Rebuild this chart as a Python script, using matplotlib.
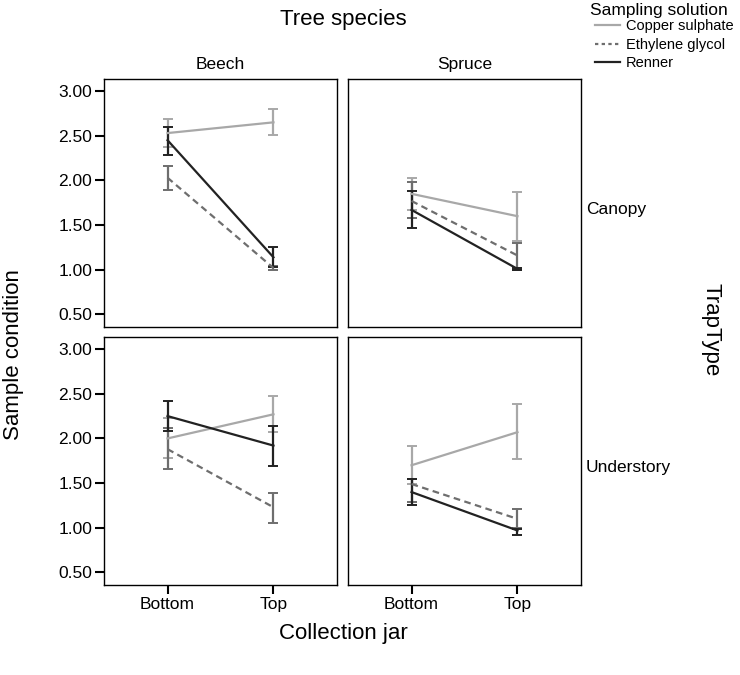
import numpy as np
import matplotlib.pyplot as plt

plt.rcParams['font.family'] = ['Liberation Sans', 'DejaVu Sans']

# categories
jars = ["Bottom", "Top"]
trees = ["Beech", "Spruce"]
traps = ["Canopy", "Understory"]
solutions = ["Copper sulphate", "Ethylene glycol", "Renner"]

# means [Bottom, Top] per panel (trap, tree) and solution
copper_mean = {("Canopy", "Beech"): [2.53, 2.65], ("Canopy", "Spruce"): [1.85, 1.60],
               ("Understory", "Beech"): [2.00, 2.27], ("Understory", "Spruce"): [1.70, 2.07]}
glycol_mean = {("Canopy", "Beech"): [2.03, 1.02], ("Canopy", "Spruce"): [1.77, 1.16],
               ("Understory", "Beech"): [1.88, 1.23], ("Understory", "Spruce"): [1.49, 1.10]}
renner_mean = {("Canopy", "Beech"): [2.45, 1.14], ("Canopy", "Spruce"): [1.67, 1.01],
               ("Understory", "Beech"): [2.25, 1.92], ("Understory", "Spruce"): [1.40, 0.97]}

# error bar lower / upper ends
copper_lo = {("Canopy", "Beech"): [2.37, 2.51], ("Canopy", "Spruce"): [1.67, 1.32],
             ("Understory", "Beech"): [1.78, 2.07], ("Understory", "Spruce"): [1.49, 1.77]}
copper_hi = {("Canopy", "Beech"): [2.69, 2.80], ("Canopy", "Spruce"): [2.03, 1.87],
             ("Understory", "Beech"): [2.23, 2.48], ("Understory", "Spruce"): [1.91, 2.38]}
glycol_lo = {("Canopy", "Beech"): [1.89, 1.00], ("Canopy", "Spruce"): [1.58, 1.00],
             ("Understory", "Beech"): [1.66, 1.05], ("Understory", "Spruce"): [1.29, 1.00]}
glycol_hi = {("Canopy", "Beech"): [2.16, 1.04], ("Canopy", "Spruce"): [1.98, 1.30],
             ("Understory", "Beech"): [2.12, 1.39], ("Understory", "Spruce"): [1.55, 1.21]}
renner_lo = {("Canopy", "Beech"): [2.29, 1.03], ("Canopy", "Spruce"): [1.47, 1.00],
             ("Understory", "Beech"): [2.08, 1.69], ("Understory", "Spruce"): [1.26, 0.92]}
renner_hi = {("Canopy", "Beech"): [2.60, 1.25], ("Canopy", "Spruce"): [1.88, 1.02],
             ("Understory", "Beech"): [2.42, 2.14], ("Understory", "Spruce"): [1.55, 0.99]}

yticks = [0.5, 1.0, 1.5, 2.0, 2.5, 3.0]

series = [
    (copper_mean, copper_lo, copper_hi, "#a8a8a8", "-"),
    (glycol_mean, glycol_lo, glycol_hi, "#6e6e6e", (0, (3, 2))),
    (renner_mean, renner_lo, renner_hi, "#222222", "-"),
]

fig = plt.figure(figsize=(7.4, 6.75), dpi=100)

lefts = [104 / 740, 348 / 740]
bottoms = [1 - 327 / 675, 1 - 585 / 675]
w = 233 / 740
h = 248 / 675

x = np.arange(len(jars))
for r, trap in enumerate(traps):
    for c, tree in enumerate(trees):
        ax = fig.add_axes([lefts[c], bottoms[r], w, h])
        key = (trap, tree)
        for means, lo, hi, col, ls in series:
            m = np.array(means[key])
            err = [m - np.array(lo[key]), np.array(hi[key]) - m]
            ax.errorbar(x, m, yerr=err, color=col, linestyle=ls, linewidth=1.6,
                        elinewidth=1.6, capsize=3.6, capthick=1.4)
        ax.set_xlim(-0.6, 1.6)
        ax.set_ylim(0.36, 3.135)
        for s in ax.spines.values():
            s.set_linewidth(1.0)
        ax.set_yticks(yticks)
        ax.set_xticks(x)
        ax.tick_params(direction='out', length=6.5, width=1.5, labelsize=12.5, pad=2)
        if c == 0:
            ax.set_yticklabels([f"{v:.2f}" for v in yticks])
        else:
            ax.tick_params(axis='y', left=False, labelleft=False)
        if r == 1:
            ax.set_xticklabels(jars)
        else:
            ax.tick_params(axis='x', bottom=False, labelbottom=False)
        if r == 0:
            ax.set_title(tree, fontsize=12.5, pad=7)
        if c == 1:
            ax.text(1.02, 0.475, trap, transform=ax.transAxes, fontsize=12.5,
                    va='center', ha='left')

fig.text(343 / 740, 1 - 20 / 675, "Tree species", ha='center', va='center', fontsize=16)
fig.text(343 / 740, 1 - 634 / 675, "Collection jar", ha='center', va='center', fontsize=16)
fig.text(14 / 740, 1 - 355 / 675, "Sample condition", ha='center', va='center',
         fontsize=16, rotation=90)
fig.text(711 / 740, 1 - 330 / 675, "TrapType", ha='center', va='center',
         fontsize=16, rotation=-90)

# legend: title as separate text so it sits left-aligned like the original
fig.text(590 / 740, 1 - 10 / 675, "Sampling solution", ha='left', va='center', fontsize=12.5)
handles = [plt.Line2D([], [], color=col, linestyle=ls if ls == "-" else (0, (1.5, 1.5)),
                      linewidth=1.6) for _, _, _, col, ls in series]
fig.legend(handles, solutions, loc='upper left', bbox_to_anchor=(594 / 740, 1 - 18 / 675),
           frameon=False, fontsize=10.5, handlelength=1.7, handletextpad=0.4,
           labelspacing=0.3, borderpad=0.1, borderaxespad=0)

fig.savefig("out.png", dpi=100)
